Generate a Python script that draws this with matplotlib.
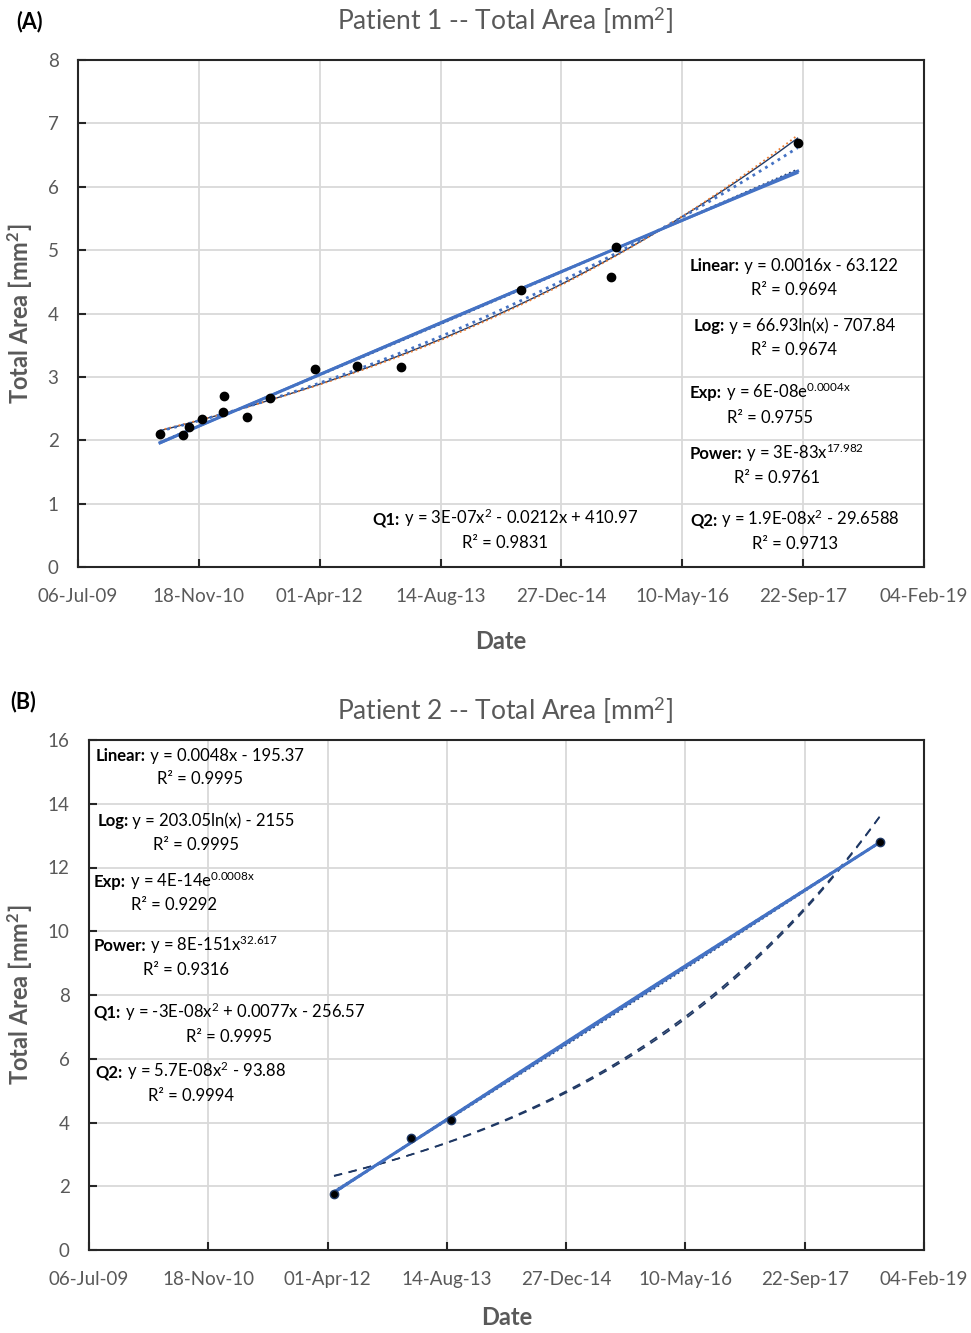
import datetime as dt
import numpy as np
import matplotlib
matplotlib.use('Agg')
import matplotlib.pyplot as plt
from matplotlib.ticker import FixedLocator, FuncFormatter

# ------------------------------------------------------------------------------
# data (dates as Excel serial numbers, areas in mm^2)
# ------------------------------------------------------------------------------
p1_date = [40339, 40433, 40460, 40514, 40601, 40605, 40698, 40794,
           40980, 41154, 41336, 41832, 42204, 42225, 42977]
p1_area = [2.10, 2.08, 2.21, 2.33, 2.45, 2.70, 2.37, 2.66,
           3.12, 3.17, 3.15, 4.37, 4.57, 5.05, 6.69]

p2_date = [41027, 41349, 41517, 43315]
p2_area = [1.76, 3.51, 4.08, 12.79]

x_ticks = [40000, 40500, 41000, 41500, 42000, 42500, 43000, 43500]
p1_yticks = [0, 1, 2, 3, 4, 5, 6, 7, 8]
p2_yticks = [0, 2, 4, 6, 8, 10, 12, 14, 16]

# trendline labels as printed by the spreadsheet
p1_labels = [
    ('Linear:', 'y = 0.0016x - 63.122', '0.9694'),
    ('Log:', 'y = 66.93ln(x) - 707.84', '0.9674'),
    ('Exp:', r'y = 6E-08e$^{\mathrm{0.0004x}}$', '0.9755'),
    ('Power:', r'y = 3E-83x$^{\mathrm{17.982}}$', '0.9761'),
    ('Q2:', r'y = 1.9E-08x$^{\mathrm{2}}$ - 29.6588', '0.9713'),
    ('Q1:', r'y = 3E-07x$^{\mathrm{2}}$ - 0.0212x + 410.97', '0.9831'),
]
p2_labels = [
    ('Linear:', 'y = 0.0048x - 195.37', '0.9995'),
    ('Log:', 'y = 203.05ln(x) - 2155', '0.9995'),
    ('Exp:', r'y = 4E-14e$^{\mathrm{0.0008x}}$', '0.9292'),
    ('Power:', r'y = 8E-151x$^{\mathrm{32.617}}$', '0.9316'),
    ('Q1:', r'y = -3E-08x$^{\mathrm{2}}$ + 0.0077x - 256.57', '0.9995'),
    ('Q2:', r'y = 5.7E-08x$^{\mathrm{2}}$ - 93.88', '0.9994'),
]

# label centres / baselines in pixels
p1_label_pos = [(794, 271, 295), (794, 331, 355), (770, 398, 423),
                (777, 459, 483), (795, 525, 549), (505, 524, 548)]
p2_label_pos = [(200, 761, 784), (196, 826, 850), (174, 887, 910),
                (186, 951, 975), (229, 1018, 1042), (191, 1077, 1101)]

# ------------------------------------------------------------------------------
plt.rcParams['font.family'] = ['Lato', 'DejaVu Sans']
plt.rcParams['mathtext.fontset'] = 'custom'
plt.rcParams['mathtext.rm'] = 'Lato'
plt.rcParams['mathtext.bf'] = 'Lato:bold'
plt.rcParams['mathtext.it'] = 'Lato:italic'

W, H = 971, 1333
GRAY = '#595959'
BLUE = '#4472C4'
NAVY = '#1F3864'
ORANGE = '#ED7D31'


def fx(px):
    return px / W


def fy(py):
    return 1 - py / H


def excel_date(v, pos=None):
    d = dt.date(1899, 12, 30) + dt.timedelta(days=int(v))
    return d.strftime('%d-%b-%y')


def fits(x, y):
    x = np.asarray(x, float)
    y = np.asarray(y, float)
    xs = np.linspace(x.min(), x.max(), 200)
    out = {}
    out['Linear'] = np.polyval(np.polyfit(x, y, 1), xs)
    out['Log'] = np.polyval(np.polyfit(np.log(x), y, 1), np.log(xs))
    out['Exp'] = np.exp(np.polyval(np.polyfit(x, np.log(y), 1), xs))
    out['Power'] = np.exp(np.polyval(np.polyfit(np.log(x), np.log(y), 1), np.log(xs)))
    out['Q1'] = np.polynomial.Polynomial.fit(x, y, 2)(xs)
    c = np.polyfit((x / 1e4) ** 2, y, 1)
    out['Q2'] = np.polyval(c, (xs / 1e4) ** 2)
    return xs, out


def setup(ax, yticks, title, title_y, xpad):
    ax.set_xlim(x_ticks[0], x_ticks[-1])
    ax.set_ylim(yticks[0], yticks[-1])
    ax.xaxis.set_major_locator(FixedLocator(x_ticks))
    ax.xaxis.set_major_formatter(FuncFormatter(excel_date))
    ax.set_yticks(yticks)
    ax.grid(True, color='#D9D9D9', lw=1.3)
    ax.set_axisbelow(True)
    for s in ax.spines.values():
        s.set_color('#262626')
        s.set_linewidth(1.5)
    ax.tick_params(direction='in', length=6, width=1.5, color='#262626',
                   labelsize=13.5, labelcolor=GRAY)
    ax.tick_params(axis='y', pad=14)
    ax.tick_params(axis='x', pad=15)
    ax.set_xlabel('Date', fontsize=17, fontweight='bold', color=GRAY, labelpad=xpad)
    ax.set_ylabel(r'Total Area [mm$^\mathbf{2}$]', fontsize=17, fontweight='bold',
                  color=GRAY, labelpad=10)
    fig.text(fx(505), fy(title_y), title, fontsize=19, color=GRAY,
             ha='center', va='center')


def labels(items, positions):
    rend = fig.canvas.get_renderer()
    for (name, eq, r2), (cx, y1, y2) in zip(items, positions):
        t1 = fig.text(0, fy(y1), name, fontsize=12, fontweight='bold',
                      ha='left', va='baseline')
        t2 = fig.text(0, fy(y1), ' ' + eq, fontsize=12,
                      ha='left', va='baseline')
        w1 = t1.get_window_extent(rend).width
        w2 = t2.get_window_extent(rend).width
        x0 = cx - (w1 + w2) / 2
        t1.set_x(fx(x0))
        t2.set_x(fx(x0 + w1))
        fig.text(fx(cx), fy(y2), 'R² = ' + r2, fontsize=12,
                 ha='center', va='baseline')


fig = plt.figure(figsize=(W / 100, H / 100), dpi=100)

# ---------------------------------------------------------------- panel A
ax1 = fig.add_axes([fx(78), fy(567), fx(924 - 78), (567 - 60) / H])
setup(ax1, p1_yticks, r'Patient 1 -- Total Area [mm$^2$]', 20, 18)
xs, f = fits(p1_date, p1_area)
ax1.plot(xs, f['Power'], color=NAVY, lw=1.0)
ax1.plot(xs, f['Exp'], color=ORANGE, lw=1.3, ls=':')
ax1.plot(xs, f['Q2'], color=NAVY, lw=1.3, ls=':')
ax1.plot(xs, f['Q1'], color=BLUE, lw=2.0, ls=':')
ax1.plot(xs, f['Log'], color=BLUE, lw=1.5)
ax1.plot(xs, f['Linear'], color=BLUE, lw=2.2)
ax1.plot(p1_date, p1_area, 'o', color='black', ms=6, zorder=5)
labels(p1_labels, p1_label_pos)
fig.text(fx(16), fy(22), '(A)', fontsize=15.5, fontweight='bold', va='center')

# ---------------------------------------------------------------- panel B
ax2 = fig.add_axes([fx(89), fy(1250), fx(924 - 89), (1250 - 740) / H])
setup(ax2, p2_yticks, r'Patient 2 -- Total Area [mm$^2$]', 710, 13)
xs, f = fits(p2_date, p2_area)
ax2.plot(xs, f['Power'], color=NAVY, lw=1.2, ls=(0, (5, 4)))
ax2.plot(xs, f['Exp'], color=NAVY, lw=1.2, ls=(0, (5, 4)))
ax2.plot(xs, f['Q2'], color=NAVY, lw=1.3, ls=':')
ax2.plot(xs, f['Log'], color=BLUE, lw=1.5)
ax2.plot(xs, f['Linear'], color=BLUE, lw=2.2)
ax2.plot(xs, f['Q1'], color=BLUE, lw=2.0, ls=':')
ax2.plot(p2_date, p2_area, 'o', color='black', mec=NAVY, ms=6, zorder=5)
labels(p2_labels, p2_label_pos)
fig.text(fx(10), fy(702), '(B)', fontsize=15.5, fontweight='bold', va='center')

fig.savefig('out.png', dpi=100)
